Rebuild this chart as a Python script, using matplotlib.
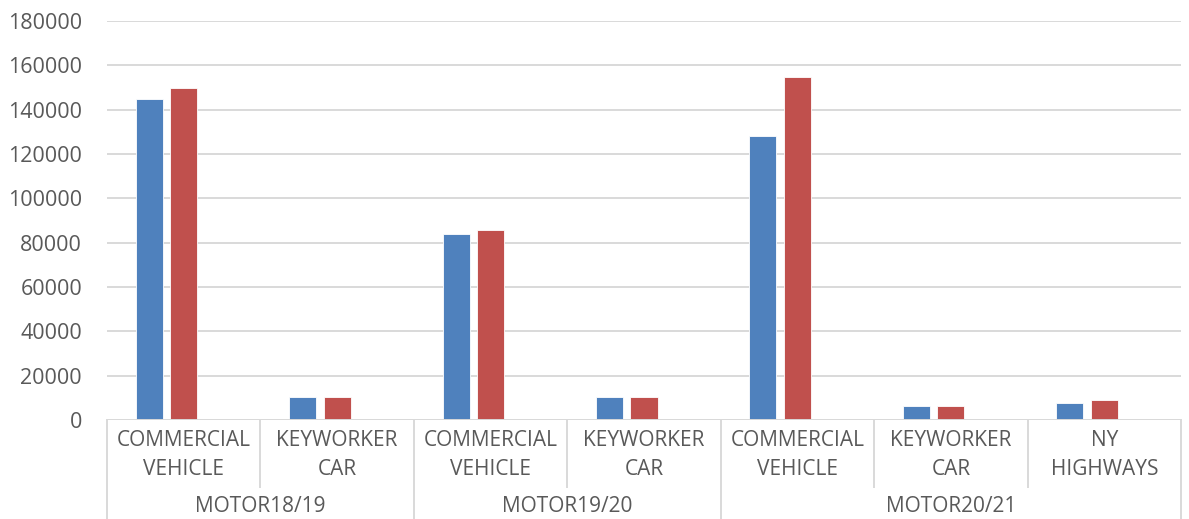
import numpy as np
import matplotlib.pyplot as plt
from matplotlib.transforms import blended_transform_factory

# Dane
groups = ['MOTOR18/19', 'MOTOR19/20', 'MOTOR20/21']
group_sizes = [2, 2, 3]
categories = ['COMMERCIAL\nVEHICLE', 'KEYWORKER\nCAR',
              'COMMERCIAL\nVEHICLE', 'KEYWORKER\nCAR',
              'COMMERCIAL\nVEHICLE', 'KEYWORKER\nCAR', 'NY\nHIGHWAYS']
series_a = [145000, 10600, 84000, 10500, 128200, 6400, 7500]
series_b = [149700, 10600, 85500, 10500, 154700, 6300, 8800]

plt.rcParams['font.family'] = ['Open Sans', 'DejaVu Sans']
txt_color = '#595959'
grid_color = '#d9d9d9'
fs = 15

fig = plt.figure(figsize=(11.89, 5.19), dpi=100)
ax = fig.add_axes([107/1189, 99/519, 1074/1189, 399/519])

n = len(categories)
x = np.arange(n)
w = 0.176
ax.bar(x - 0.225, series_a, w, color='#4f81bd', edgecolor='#ffffff', linewidth=0.6, zorder=3)
ax.bar(x, series_b, w, color='#c0504d', edgecolor='#ffffff', linewidth=0.6, zorder=3)

ax.set_xlim(-0.5, n - 0.5)
ax.set_ylim(0, 180000)
ax.set_yticks(np.arange(0, 180001, 20000))
ax.tick_params(axis='y', length=0, labelsize=15.5, labelcolor=txt_color, pad=18)
ax.set_xticks([])
ax.grid(axis='y', color=grid_color, linewidth=1.4, zorder=0)
for s in ax.spines.values():
    s.set_visible(False)
ax.axhline(0, color=grid_color, linewidth=1.4, zorder=4)

# Oś kategorii w stylu Excela
tr = blended_transform_factory(ax.transData, ax.transAxes)
bounds = np.cumsum([0] + group_sizes)
for b in range(n + 1):
    ybot = -99/399 if b in bounds else -67/399
    ax.plot([b - 0.5, b - 0.5], [0, ybot], color=grid_color, lw=1.4,
            transform=tr, clip_on=False)
for i, lab in enumerate(categories):
    ax.text(i, -35/399, lab, transform=tr, ha='center', va='center',
            fontsize=fs, color=txt_color, linespacing=1.45)
for g, name in enumerate(groups):
    c = (bounds[g] + bounds[g + 1] - 1) / 2
    ax.text(c, -86/399, name, transform=tr, ha='center', va='center',
            fontsize=fs, color=txt_color)

plt.savefig('out.png', dpi=100)
